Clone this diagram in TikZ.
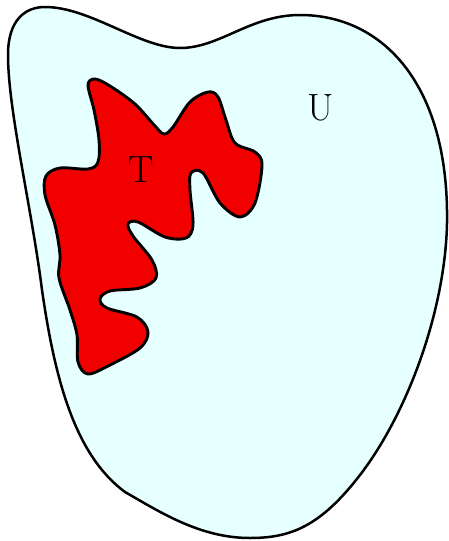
\documentclass[tikz,border=0pt]{standalone}
\begin{document}
\begin{tikzpicture}[x=1pt,y=-1pt,
  region/.style={draw=black,line width=2.5pt,line join=round,fill=cyanlight},
  blob/.style={draw=black,line width=2.9pt,line join=round,fill=blobred},
  lbl/.style={font=\fontsize{38}{40}\selectfont,inner sep=0pt}]
\definecolor{cyanlight}{RGB}{230,255,255}
\definecolor{blobred}{RGB}{242,0,0}
\useasboundingbox (0,0) rectangle (449,541);
% outer set U
\draw[region] (8,55) .. controls (8,20) and (25,7) .. (45,7)
  .. controls (90,7) and (140,48) .. (180,48)
  .. controls (220,48) and (250,15) .. (300,15)
  .. controls (380,15) and (445,80) .. (447,210)
  .. controls (449,300) and (410,410) .. (360,475)
  .. controls (320,527) and (290,538) .. (250,538)
  .. controls (200,538) and (160,512) .. (125,492)
  .. controls (75,455) and (55,380) .. (42,290)
  .. controls (32,210) and (8,110) .. (8,55) -- cycle;
% subset T
\draw[blob] plot[smooth cycle,tension=0.55] coordinates {
 (88,85) (94,110) (99,140) (98,162) (88,169) (60,168) (46,176) (45,195)
 (55,225) (60,255) (59,278) (70,310) (77,335) (78,362) (88,374) (110,365)
 (140,348) (148,332) (137,317) (107,308) (100,299) (110,291) (140,288)
 (156,278) (152,260) (133,236) (128,224) (138,222) (165,237) (186,238)
 (193,225) (190,190) (191,173) (203,173) (220,203) (240,217) (255,203)
 (262,165) (255,152) (235,143) (226,120) (218,97) (208,92) (190,102)
 (173,127) (164,134) (155,126) (135,104) (110,86) (95,79)};
\node[lbl] (T) at (141,170) {T};
\node[lbl] (U) at (321,108) {U};
\end{tikzpicture}
\end{document}
